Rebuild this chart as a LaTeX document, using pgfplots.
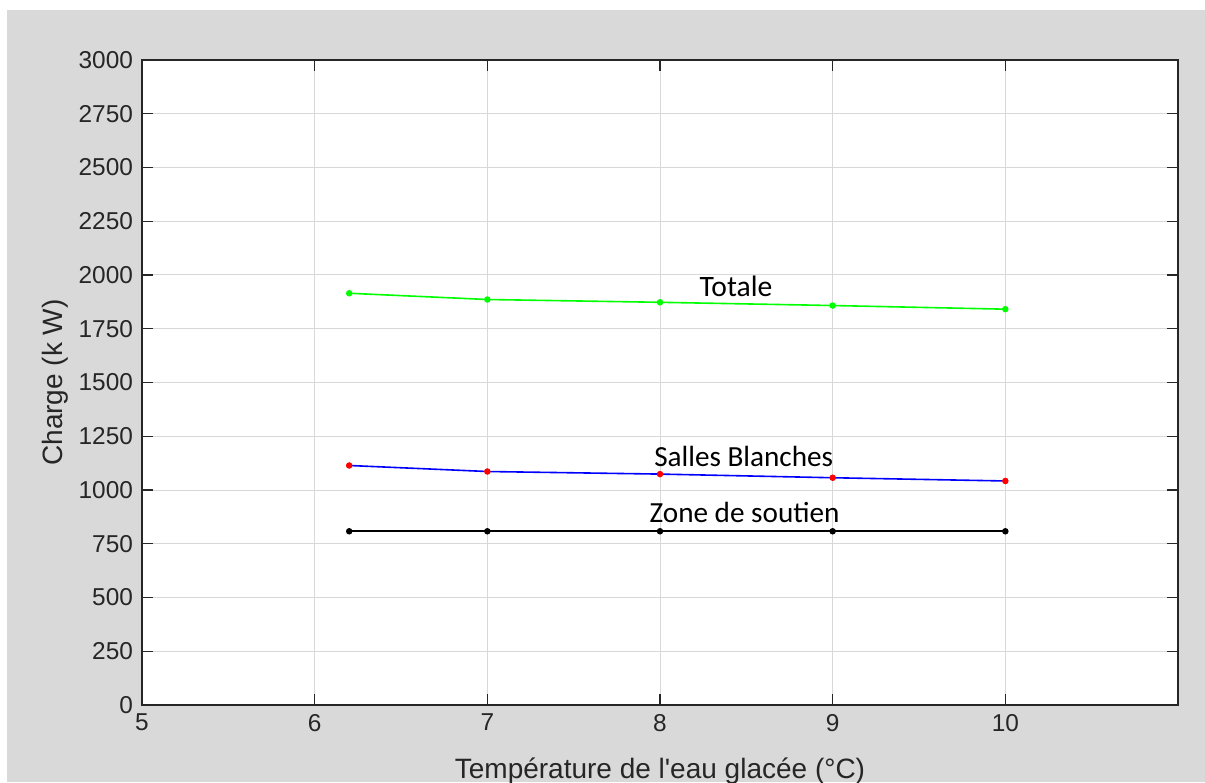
\documentclass[border=0pt]{standalone}
\usepackage{fontspec}
\setmainfont{Liberation Sans}[Ligatures=TeXOff]
\newfontfamily\annfont{Carlito}
\usepackage{pgfplots}
\pgfplotsset{compat=1.18}
\definecolor{figgray}{HTML}{D9D9D9}
\definecolor{axink}{HTML}{262626}
\definecolor{gridgray}{HTML}{D8D8D8}

\begin{document}
\begin{tikzpicture}[x=1pt,y=1pt]
% 1 px of the reference = 0.5pt, axis corner at px (142,705)
\fill[white] (-71,-38.5) rectangle (531.5,352.5);
\fill[figgray] (-67.5,-38.5) rectangle (531.5,347.5);
\begin{axis}[
    at={(0,0)}, anchor=south west,
    scale only axis,
    width=518pt, height=322.5pt,
    xmin=5, xmax=11, ymin=0, ymax=3000,
    xtick={5,6,7,8,9,10},
    ytick={0,250,...,3000},
    axis background/.style={fill=white},
    axis line style={draw=axink,line width=0.6pt},
    tick style={draw=axink,line width=0.6pt},
    major tick length=5.5pt,
    tick align=inside,
    tick pos=both,
    grid=major,
    grid style={draw=gridgray,line width=0.5pt},
    /pgf/number format/assume math mode=true,
    /pgf/number format/1000 sep={},
    tick label style={font=\fontsize{12.2}{14}\selectfont,text=axink},
    xticklabel style={yshift=-1pt},
    yticklabel style={xshift=-1pt},
    label style={font=\fontsize{14}{16}\selectfont,text=axink},
    xlabel={Température de l'eau glacée (°C)},
    ylabel={Charge (k W)},
    xlabel style={at={(rel axis cs:0.5,-0.1147)},anchor=base},
    ylabel style={at={(rel axis cs:-0.0763,0.5)},anchor=base},
    every axis plot/.append style={line width=0.8pt,mark=*,mark size=1.2pt},
]
\addplot[color=green,mark options={fill=green,draw=green}] coordinates {
    (6.2,1915) (7,1886) (8,1873) (9,1858) (10,1841)
};
\addplot[color=blue,mark options={fill=red,draw=red}] coordinates {
    (6.2,1114) (7,1086) (8,1074) (9,1057) (10,1042)
};
\addplot[color=black,mark options={fill=black,draw=black}] coordinates {
    (6.2,808) (7,808) (8,808) (9,808) (10,808)
};
\node[font=\annfont\fontsize{14.8}{17}\selectfont,anchor=base] at (axis cs:8.44,1902) {Totale};
\node[font=\annfont\fontsize{14.6}{17}\selectfont,anchor=base] at (axis cs:8.485,1107) {Salles Blanches};
\node[font=\annfont\fontsize{14.6}{17}\selectfont,anchor=base] at (axis cs:8.49,847) {Zone de soutien};
\end{axis}
\pgfresetboundingbox
\path[use as bounding box] (-71,-38.5) rectangle (531.5,352.5);
\end{tikzpicture}
\end{document}
